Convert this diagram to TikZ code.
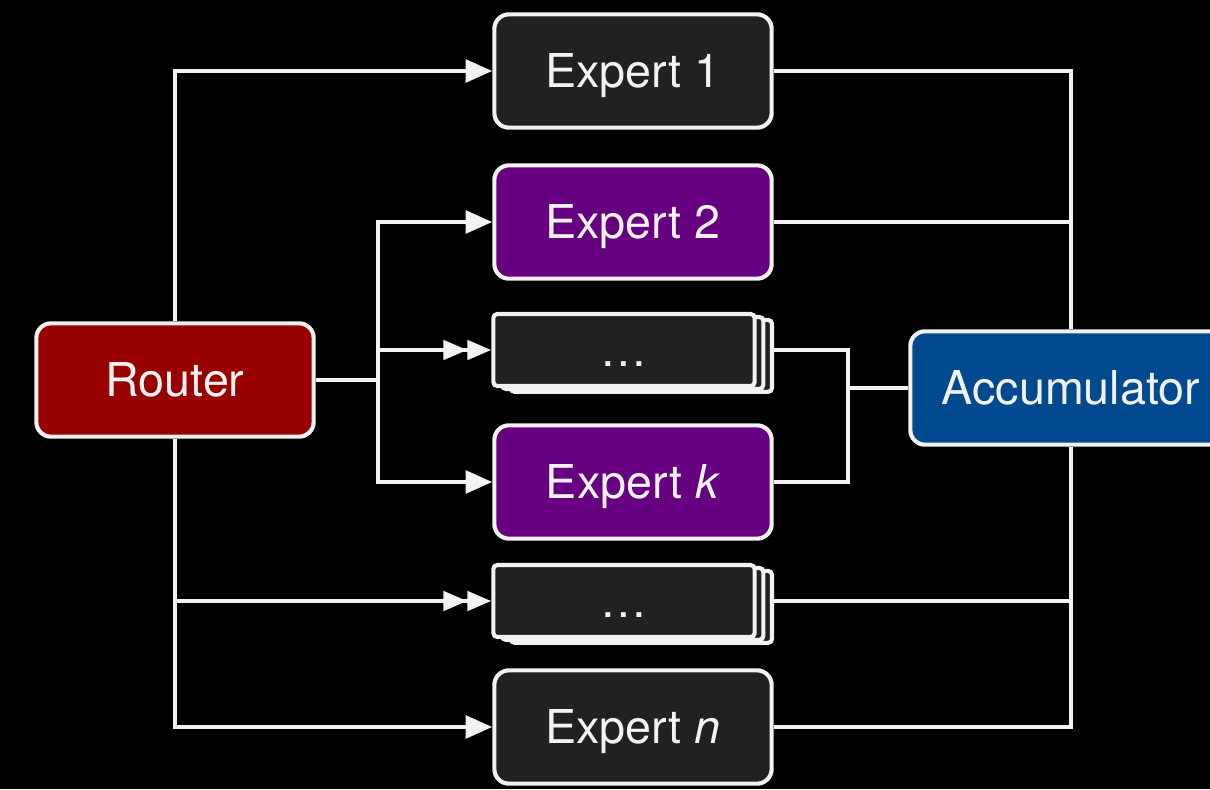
\documentclass[tikz,border=0pt]{standalone}
\usepackage{fontspec}
\setmainfont{TeX Gyre Heros}
\usetikzlibrary{arrows.meta,shadows,backgrounds}

\definecolor{boxgray}{RGB}{33,33,33}
\definecolor{exppurple}{RGB}{102,0,128}
\definecolor{routerred}{RGB}{153,0,0}
\definecolor{accblue}{RGB}{2,74,143}
\definecolor{edge}{RGB}{242,242,242}

\tikzset{
  px/.style={x=0.75pt,y=-0.75pt},
  label text/.style={text=edge, font=\fontsize{35}{40}\selectfont,
    text height=25pt, text depth=0pt, inner sep=0pt},
  block/.style={draw=edge, line width=3.1pt, rounded corners=11pt,
    minimum width=208pt, minimum height=85pt, label text},
  plainbox/.style={block, fill=boxgray},
  hotbox/.style={block, fill=exppurple},
  stackbox/.style={draw=edge, line width=3.1pt, rounded corners=3pt,
    fill=boxgray, minimum width=196pt, minimum height=54pt, label text,
    double copy shadow={shadow xshift=6.5pt, shadow yshift=-2.2pt}},
  wire/.style={draw=edge, line width=2.9pt},
  arr/.style={wire, -{Triangle[length=20pt,width=17pt]}},
  darr/.style={wire, -{Triangle[length=18pt,width=14.5pt]Triangle[length=18pt,width=14.5pt]}},
}

\begin{document}
\begin{tikzpicture}[px]
  \useasboundingbox (0,0) rectangle (1210,789);
  \clip (0,0) rectangle (1210,789);

  % processing blocks
  \node[block, fill=routerred] (router) at (175,380) {Router};
  \node[plainbox] (e1) at (633,71) {Expert 1};
  \node[hotbox]   (e2) at (633,222) {Expert 2};
  \node[stackbox] (d1) at (624,350) {\dots};
  \node[hotbox]   (ek) at (633,482) {Expert \textit{k}};
  \node[stackbox] (d2) at (624,601) {\dots};
  \node[plainbox] (en) at (633,727) {Expert \textit{n}};
  \node[block, fill=accblue, minimum width=241pt] (acc) at (1071,388) {Accumulator};

  \coordinate (split) at (378,380);
  \coordinate (join) at (848,388);

  \begin{scope}[on background layer]
    \fill[black] (0,0) rectangle (1210,789);

    % router fan-out
    \draw[arr] (router.north) |- (e1.west);
    \draw[arr] (router.south) |- (en.west);
    \draw[darr] (router.south |- d2.west) -- (d2.west);
    \draw[wire] (router.east) -- (split);
    \draw[arr] (split) |- (e2.west);
    \draw[arr] (split) |- (ek.west);
    \draw[darr] (split |- d1.west) -- (d1.west);

    % outputs into the accumulator
    \draw[wire] (e1.east) -| (acc.north);
    \draw[wire] (en.east) -| (acc.south);
    \draw[wire] (e2.east) -- (e2.east -| acc.north);
    \draw[wire] (d2.east) -- (d2.east -| acc.north);
    \draw[wire] (d1.east) -- (d1.east -| join) -- (ek.east -| join) -- (ek.east);
    \draw[wire] (join) -- (acc.west);
  \end{scope}
\end{tikzpicture}
\end{document}
